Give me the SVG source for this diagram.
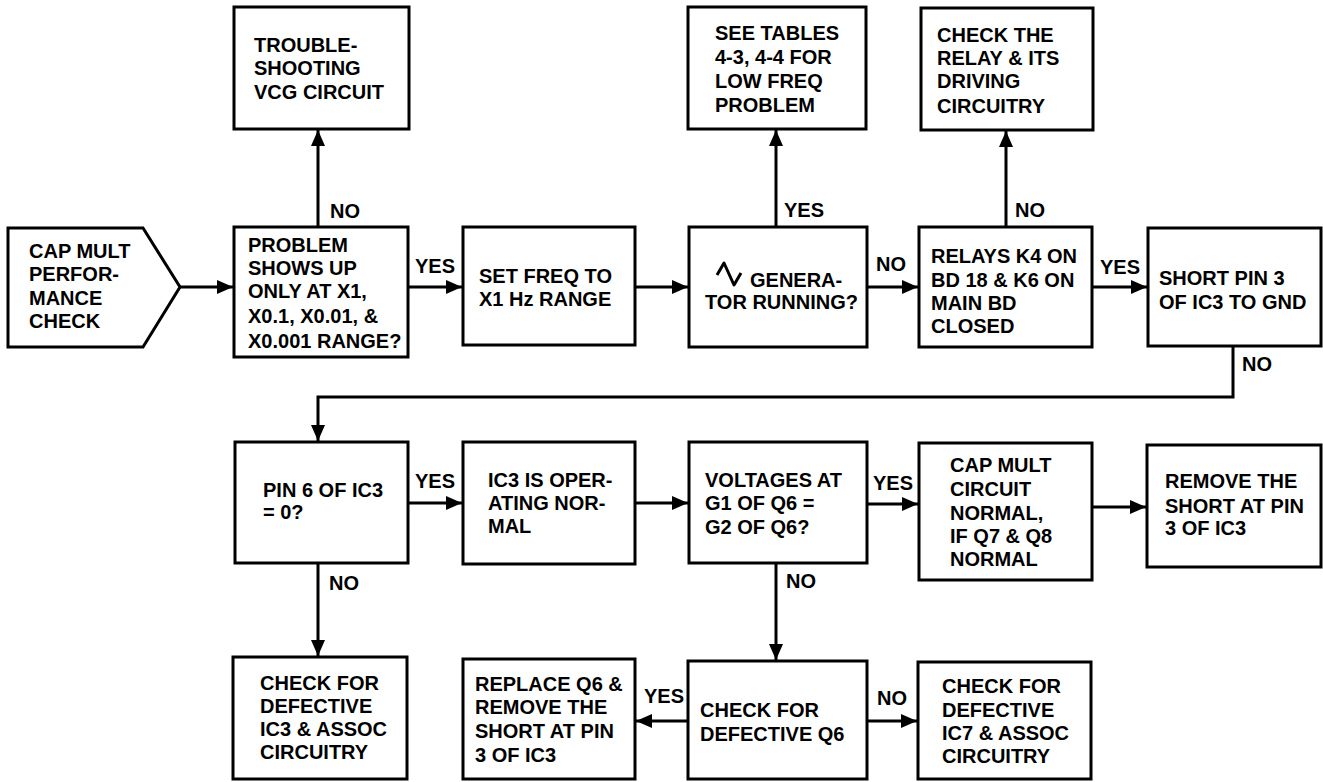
<svg xmlns="http://www.w3.org/2000/svg" width="1323" height="782" viewBox="0 0 1323 782">
<style>
.box{fill:#fff;stroke:#000;stroke-width:3}
.t{font-family:"Liberation Sans",Arial,sans-serif;font-weight:bold;font-size:20px;fill:#000}
.c{fill:none;stroke:#000;stroke-width:3}
</style>
<defs>
<marker id="ah" markerUnits="userSpaceOnUse" markerWidth="16" markerHeight="14" refX="16" refY="7" orient="auto">
<path d="M0,0 L16,7 L0,14 z" fill="#000"/>
</marker>
</defs>
<rect width="1323" height="782" fill="#fff"/>
<g id="connectors">
<path class="c" d="M180,287 H233" marker-end="url(#ah)"/>
<path class="c" d="M318,226 V130" marker-end="url(#ah)"/>
<path class="c" d="M408,287 H462" marker-end="url(#ah)"/>
<path class="c" d="M635,287 H688" marker-end="url(#ah)"/>
<path class="c" d="M776,227 V130" marker-end="url(#ah)"/>
<path class="c" d="M867,287 H918" marker-end="url(#ah)"/>
<path class="c" d="M1006,227 V131" marker-end="url(#ah)"/>
<path class="c" d="M1092,287 H1147" marker-end="url(#ah)"/>
<path class="c" d="M1233,346 V397 H318 V441" marker-end="url(#ah)"/>
<path class="c" d="M408,503 H462" marker-end="url(#ah)"/>
<path class="c" d="M318,563 V656" marker-end="url(#ah)"/>
<path class="c" d="M635,503 H688" marker-end="url(#ah)"/>
<path class="c" d="M867,504 H918" marker-end="url(#ah)"/>
<path class="c" d="M776,563 V660" marker-end="url(#ah)"/>
<path class="c" d="M1092,507 H1146" marker-end="url(#ah)"/>
<path class="c" d="M688,721 H636" marker-end="url(#ah)"/>
<path class="c" d="M867,721 H917" marker-end="url(#ah)"/>
<text class="t" x="330" y="218">NO</text>
<text class="t" x="415" y="273">YES</text>
<text class="t" x="784" y="217">YES</text>
<text class="t" x="876" y="271">NO</text>
<text class="t" x="1015" y="217">NO</text>
<text class="t" x="1100" y="274">YES</text>
<text class="t" x="1242" y="371">NO</text>
<text class="t" x="415" y="488">YES</text>
<text class="t" x="329" y="590">NO</text>
<text class="t" x="873" y="490">YES</text>
<text class="t" x="786" y="588">NO</text>
<text class="t" x="644" y="703">YES</text>
<text class="t" x="877" y="705">NO</text>
</g>
<g id="start">
<polygon class="box" points="8,228 143,228 180,287 143,347 8,347"/>
<text class="t" x="29" y="258">CAP MULT</text>
<text class="t" x="29" y="281">PERFOR-</text>
<text class="t" x="29" y="305">MANCE</text>
<text class="t" x="29" y="328">CHECK</text>
</g>
<g id="troubleshooting">
<rect class="box" x="234" y="7" width="175" height="122"/>
<text class="t" x="254" y="52">TROUBLE-</text>
<text class="t" x="254" y="75">SHOOTING</text>
<text class="t" x="254" y="99">VCG CIRCUIT</text>
</g>
<g id="problem">
<rect class="box" x="234" y="227" width="174" height="130"/>
<text class="t" x="248" y="252">PROBLEM</text>
<text class="t" x="248" y="275">SHOWS UP</text>
<text class="t" x="248" y="298">ONLY AT X1,</text>
<text class="t" x="248" y="323">X0.1, X0.01, &amp;</text>
<text class="t" x="248" y="348">X0.001 RANGE?</text>
</g>
<g id="setfreq">
<rect class="box" x="463" y="227" width="172" height="118"/>
<text class="t" x="479" y="283">SET FREQ TO</text>
<text class="t" x="479" y="306">X1 Hz RANGE</text>
</g>
<g id="tables">
<rect class="box" x="688" y="7" width="178" height="122"/>
<text class="t" x="715" y="40">SEE TABLES</text>
<text class="t" x="715" y="64">4-3, 4-4 FOR</text>
<text class="t" x="715" y="88">LOW FREQ</text>
<text class="t" x="715" y="112">PROBLEM</text>
</g>
<g id="generator">
<rect class="box" x="689" y="227" width="178" height="120"/>
<path d="M717,275 L724,263 L734,285 L741,273" fill="none" stroke="#000" stroke-width="3" stroke-linejoin="round"/>
<text class="t" x="750" y="287">GENERA-</text>
<text class="t" x="705" y="309">TOR RUNNING?</text>
</g>
<g id="relaycheck">
<rect class="box" x="921" y="8" width="172" height="122"/>
<text class="t" x="937" y="42">CHECK THE</text>
<text class="t" x="937" y="65">RELAY &amp; ITS</text>
<text class="t" x="937" y="88">DRIVING</text>
<text class="t" x="937" y="113">CIRCUITRY</text>
</g>
<g id="relays">
<rect class="box" x="919" y="227" width="173" height="120"/>
<text class="t" x="931" y="263">RELAYS K4 ON</text>
<text class="t" x="931" y="287">BD 18 &amp; K6 ON</text>
<text class="t" x="931" y="310">MAIN BD</text>
<text class="t" x="931" y="333">CLOSED</text>
</g>
<g id="shortpin">
<rect class="box" x="1148" y="228" width="173" height="118"/>
<text class="t" x="1159" y="285">SHORT PIN 3</text>
<text class="t" x="1159" y="309">OF IC3 TO GND</text>
</g>
<g id="pin6">
<rect class="box" x="235" y="442" width="173" height="121"/>
<text class="t" x="263" y="497">PIN 6 OF IC3</text>
<text class="t" x="263" y="519">= 0?</text>
</g>
<g id="ic3op">
<rect class="box" x="463" y="442" width="172" height="122"/>
<text class="t" x="488" y="487">IC3 IS OPER-</text>
<text class="t" x="488" y="510">ATING NOR-</text>
<text class="t" x="488" y="533">MAL</text>
</g>
<g id="voltages">
<rect class="box" x="689" y="442" width="178" height="121"/>
<text class="t" x="705" y="487">VOLTAGES AT</text>
<text class="t" x="705" y="510">G1 OF Q6 =</text>
<text class="t" x="705" y="534">G2 OF Q6?</text>
</g>
<g id="capnormal">
<rect class="box" x="919" y="443" width="173" height="137"/>
<text class="t" x="950" y="472">CAP MULT</text>
<text class="t" x="950" y="496">CIRCUIT</text>
<text class="t" x="950" y="520">NORMAL,</text>
<text class="t" x="950" y="543">IF Q7 &amp; Q8</text>
<text class="t" x="950" y="566">NORMAL</text>
</g>
<g id="removeshort">
<rect class="box" x="1147" y="445" width="174" height="122"/>
<text class="t" x="1165" y="488">REMOVE THE</text>
<text class="t" x="1165" y="513">SHORT AT PIN</text>
<text class="t" x="1165" y="535">3 OF IC3</text>
</g>
<g id="checkic3">
<rect class="box" x="233" y="657" width="174" height="122"/>
<text class="t" x="260" y="690">CHECK FOR</text>
<text class="t" x="260" y="713">DEFECTIVE</text>
<text class="t" x="260" y="736">IC3 &amp; ASSOC</text>
<text class="t" x="260" y="759">CIRCUITRY</text>
</g>
<g id="replaceq6">
<rect class="box" x="463" y="659" width="172" height="120"/>
<text class="t" x="475" y="691">REPLACE Q6 &amp;</text>
<text class="t" x="475" y="714">REMOVE THE</text>
<text class="t" x="475" y="738">SHORT AT PIN</text>
<text class="t" x="475" y="762">3 OF IC3</text>
</g>
<g id="checkq6">
<rect class="box" x="688" y="661" width="179" height="118"/>
<text class="t" x="700" y="717">CHECK FOR</text>
<text class="t" x="700" y="741">DEFECTIVE Q6</text>
</g>
<g id="checkic7">
<rect class="box" x="918" y="662" width="173" height="117"/>
<text class="t" x="942" y="693">CHECK FOR</text>
<text class="t" x="942" y="717">DEFECTIVE</text>
<text class="t" x="942" y="740">IC7 &amp; ASSOC</text>
<text class="t" x="942" y="763">CIRCUITRY</text>
</g>
</svg>
